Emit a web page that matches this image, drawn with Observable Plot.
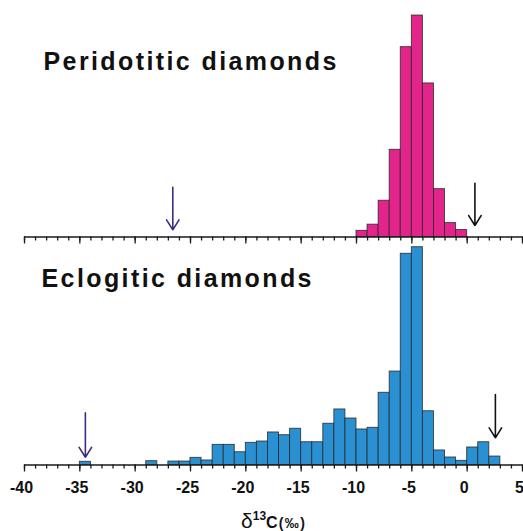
<!DOCTYPE html>
<html>
<head>
<meta charset="utf-8">
<script src="https://cdn.jsdelivr.net/npm/d3@7"></script>
<script src="https://cdn.jsdelivr.net/npm/@observablehq/plot@0.6"></script>
<style>
  body { margin: 0; background: #fff; }
  #chart { width: 523px; }
  #chart svg { display: block; }
  #chart g[aria-label="text"] text { letter-spacing: 2.4px; }
  #chart g[aria-label="x-axis tick label"] { font-weight: bold; font-size: 16px; }
</style>
</head>
<body>
<div id="chart"></div>
<script>
// δ13C of diamonds, 1‰ bins; values are % of each suite per bin
const peridotiticBins = [-10, -9, -8, -7, -6, -5, -4, -3, -2, -1];
const peridotiticPct  = [0.8, 1.6, 4.7, 11.3, 24.6, 28.7, 19.9, 6.2, 1.8, 0.9];

const eclogiticBins = [-35, -29, -27, -26, -25, -24, -23, -22, -21, -20, -19, -18, -17, -16, -15, -14,
                       -13, -12, -11, -10, -9, -8, -7, -6, -5, -4, -3, -2, -1, 0, 1, 2];
const eclogiticPct  = [0.27, 0.32, 0.29, 0.29, 0.60, 0.38, 1.69, 1.69, 1.07, 1.86, 1.97, 2.73, 2.50, 3.04, 1.91, 1.91,
                       3.46, 4.66, 3.90, 2.98, 3.12, 6.06, 7.84, 17.72, 18.27, 4.51, 1.22, 0.63, 0.35, 1.47, 1.91, 0.71];

const binWidth = 1;
const majorTicks = [-40, -35, -30, -25, -20, -15, -10, -5, 0, 5];
const minorTicks = d3.range(-40, 6, 1);

// marker arrows: position in ‰, vertical extent in % units
const peridotiticArrows = [
  {x: -26.6, from: 6.45, to: 0.93, color: "#3b2d82"},
  {x: 0.7,   from: 6.97, to: 1.49, color: "#111111"}
];
const eclogiticArrows = [
  {x: -34.5, from: 4.38, to: 0.65, color: "#3b2d82"},
  {x: 2.55,  from: 5.91, to: 2.28, color: "#111111"}
];

const fontFamily = "'Liberation Sans', Arial, Helvetica, sans-serif";
const ink = "#1a1a1a";

function panel({bins, pct, fill, arrows, title, titleDx, titleDy, height, marginTop, marginBottom, yMax, labels}) {
  const data = bins.map((b, i) => ({x1: b, x2: b + binWidth, pct: pct[i]}));
  const marks = [
    Plot.rectY(data, {x1: "x1", x2: "x2", y: "pct", fill, stroke: "#262626", strokeWidth: 0.9, strokeOpacity: 0.85}),
    Plot.axisX({ticks: minorTicks, tickSize: 4, tickFormat: () => "", stroke: ink, strokeWidth: 1.3, label: null}),
    Plot.axisX({ticks: majorTicks, tickSize: 7, tickFormat: () => "", stroke: ink, strokeWidth: 1.3, label: null}),
    Plot.ruleY([0], {stroke: ink, strokeWidth: 1.4}),
    Plot.arrow(arrows, {x: "x", y1: "from", y2: "to", stroke: "color", strokeWidth: 1.6, headLength: 11, headAngle: 64}),
    Plot.text([title], {frameAnchor: "top-left", textAnchor: "start", lineAnchor: "top",
                        dx: titleDx, dy: titleDy, fontSize: 25, fontWeight: "bold", fill: "#111"})
  ];
  if (labels) {
    marks.push(Plot.axisX({ticks: majorTicks, tickSize: 0, tickPadding: 16.5, tickFormat: d => String(d),
                           fontSize: 16, fontWeight: "bold", fill: "#111", dx: -3, label: null}));
  }
  return Plot.plot({
    width: 523, height, marginLeft: 24, marginRight: 1, marginTop, marginBottom,
    style: {fontFamily, background: "#fff", color: "#111"},
    x: {domain: [-40, 5]},
    y: {domain: [0, yMax], axis: null},
    color: {type: "identity"},
    marks
  });
}

const upperPanel = panel({
  bins: peridotiticBins, pct: peridotiticPct, fill: "#e3248b", arrows: peridotiticArrows,
  title: "Peridotitic diamonds", titleDx: 19, titleDy: 46.7,
  height: 246, marginTop: 5, marginBottom: 9.5, yMax: 30, labels: false
});

const lowerPanel = panel({
  bins: eclogiticBins, pct: eclogiticPct, fill: "#2a90d2", arrows: eclogiticArrows,
  title: "Eclogitic diamonds", titleDx: 17, titleDy: 22.3,
  height: 285, marginTop: 0, marginBottom: 66.5, yMax: 18.33, labels: true
});

// x-axis title: δ13C (‰)
const xLab = d3.select(lowerPanel).append("text")
  .attr("x", 241).attr("y", 282)
  .attr("text-anchor", "start")
  .attr("fill", "#111")
  .style("font-family", fontFamily);
xLab.append("tspan").attr("font-size", 21).attr("font-weight", "normal").text("δ");
xLab.append("tspan").attr("font-size", 12).attr("font-weight", "bold").attr("dy", -8).text("13");
xLab.append("tspan").attr("font-size", 16).attr("font-weight", "bold").attr("dy", 8).text("C");
xLab.append("tspan").attr("font-size", 14).attr("font-weight", "bold").attr("dx", 1)
  .attr("letter-spacing", 1.5).text("(‰)");

document.getElementById("chart").append(upperPanel, lowerPanel);
</script>
</body>
</html>
